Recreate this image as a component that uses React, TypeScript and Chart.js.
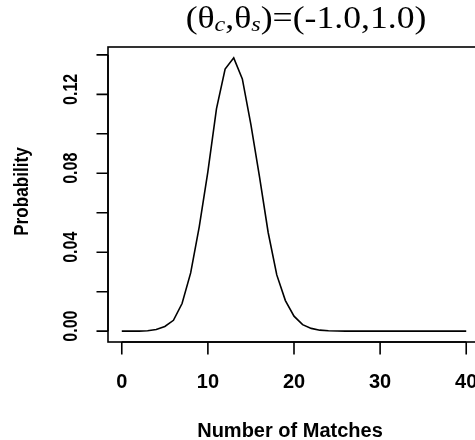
import { useEffect, useRef } from "react";
import { Chart, registerables } from "chart.js";

Chart.register(...registerables);

// Number of matches (x) and the probability of each count (y)
const matches = [
  0, 1, 2, 3, 4, 5, 6, 7, 8, 9, 10, 11, 12, 13, 14, 15, 16, 17, 18, 19, 20,
  21, 22, 23, 24, 25, 26, 27, 28, 29, 30, 31, 32, 33, 34, 35, 36, 37, 38, 39, 40,
];
const probability = [
  0.0, 0.0, 0.0, 0.0002, 0.0008, 0.0024, 0.0055, 0.014, 0.0295, 0.053, 0.0808,
  0.1128, 0.1328, 0.1385, 0.1278, 0.1045, 0.078, 0.05, 0.0285, 0.0155, 0.0076,
  0.0033, 0.0014, 0.0005, 0.0002, 0.0001, 0.0, 0.0, 0.0, 0.0, 0.0, 0.0, 0.0,
  0.0, 0.0, 0.0, 0.0, 0.0, 0.0, 0.0, 0.0,
];

const xTicks = [0, 10, 20, 30, 40];
const xTickLabels = ["0", "10", "20", "30", "40"];
const yTicks = [0, 0.02, 0.04, 0.06, 0.08, 0.1, 0.12, 0.14];
const yTickLabels = ["0.00", "", "0.04", "", "0.08", "", "0.12", ""];

const xTitle = "Number of Matches";
const yTitle = "Probability";
const thetaC = -1.0;
const thetaS = 1.0;

const SANS = "'Liberation Sans', Arial, Helvetica, sans-serif";
const SERIF = "'Liberation Serif', 'Times New Roman', serif";

function fmt(v: number) {
  return v.toFixed(1);
}

// Base-graphics style frame: box, axes with outward ticks, labels, title
const basePlotPlugin = {
  id: "basePlot",
  afterDraw(chart: any) {
    const ctx: CanvasRenderingContext2D = chart.ctx;
    const area = chart.chartArea;
    const xs = chart.scales.x;
    const ys = chart.scales.y;
    ctx.save();
    ctx.strokeStyle = "#000";
    ctx.fillStyle = "#000";
    ctx.lineWidth = 1.6;

    // box
    ctx.strokeRect(area.left, area.top, area.right - area.left, area.bottom - area.top);

    // x axis
    const xa = xs.getPixelForValue(xTicks[0]);
    const xb = xs.getPixelForValue(xTicks[xTicks.length - 1]);
    ctx.beginPath();
    ctx.moveTo(xa, area.bottom);
    ctx.lineTo(xb, area.bottom);
    xTicks.forEach((t) => {
      const px = xs.getPixelForValue(t);
      ctx.moveTo(px, area.bottom);
      ctx.lineTo(px, area.bottom + 12.5);
    });
    ctx.stroke();

    ctx.font = `bold 20px ${SANS}`;
    ctx.textAlign = "center";
    ctx.textBaseline = "alphabetic";
    xTicks.forEach((t, i) => {
      ctx.fillText(xTickLabels[i], xs.getPixelForValue(t), area.bottom + 46);
    });

    // y axis
    const ya = ys.getPixelForValue(yTicks[0]);
    const yb = ys.getPixelForValue(yTicks[yTicks.length - 1]);
    ctx.beginPath();
    ctx.moveTo(area.left, ya);
    ctx.lineTo(area.left, yb);
    yTicks.forEach((t) => {
      const py = ys.getPixelForValue(t);
      ctx.moveTo(area.left, py);
      ctx.lineTo(area.left - 11.5, py);
    });
    ctx.stroke();

    yTicks.forEach((t, i) => {
      const label = yTickLabels[i];
      if (!label) return;
      const py = ys.getPixelForValue(t);
      ctx.save();
      ctx.translate(area.left - 37, py - 5);
      ctx.scale(1, 0.8);
      ctx.rotate(-Math.PI / 2);
      ctx.font = `bold 20px ${SANS}`;
      ctx.textAlign = "center";
      ctx.textBaseline = "middle";
      ctx.fillText(label, 0, 0);
      ctx.restore();
    });

    // axis titles
    ctx.font = `bold 20px ${SANS}`;
    ctx.textAlign = "center";
    ctx.textBaseline = "alphabetic";
    ctx.fillText(xTitle, (area.left + area.right) / 2 - 4, 436.5);

    ctx.save();
    ctx.translate(23, (area.top + area.bottom) / 2 - 3);
    ctx.scale(1, 0.88);
    ctx.rotate(-Math.PI / 2);
    ctx.font = `bold 19.5px ${SANS}`;
    ctx.textAlign = "center";
    ctx.textBaseline = "middle";
    ctx.fillText(yTitle, 0, 0);
    ctx.restore();

    // main title with subscripts
    const mainFont = `31px ${SERIF}`;
    const subFont = `italic 21px ${SERIF}`;
    const parts: [string, string, number][] = [
      ["(\u03b8", mainFont, 0],
      ["c", subFont, 3],
      [",\u03b8", mainFont, 0],
      ["s", subFont, 3],
      [`)=(${fmt(thetaC)},${fmt(thetaS)})`, mainFont, 0],
    ];
    let total = 0;
    const widths = parts.map(([txt, f]) => {
      ctx.font = f;
      const w = ctx.measureText(txt).width;
      total += w;
      return w;
    });
    const sx = 1.15;
    const cx = 306;
    ctx.save();
    ctx.translate(cx - (total * sx) / 2, 28);
    ctx.scale(sx, 1);
    ctx.textAlign = "left";
    ctx.textBaseline = "alphabetic";
    let x = 0;
    parts.forEach(([txt, f, dy], i) => {
      ctx.font = f;
      ctx.fillText(txt, x, dy);
      x += widths[i];
    });
    ctx.restore();

    ctx.restore();
  },
};

export default function App() {
  const ref = useRef<HTMLCanvasElement | null>(null);

  useEffect(() => {
    const canvas = ref.current;
    if (!canvas) return;
    const chart = new Chart(canvas, {
      type: "line",
      data: {
        datasets: [
          {
            data: matches.map((m, i) => ({ x: m, y: probability[i] })),
            borderColor: "#000",
            borderWidth: 1.6,
            pointRadius: 0,
            tension: 0,
            fill: false,
          },
        ],
      },
      options: {
        animation: false,
        responsive: false,
        devicePixelRatio: 1,
        layout: { padding: { left: 108, top: 47, right: 10, bottom: 98 } },
        plugins: {
          legend: { display: false },
          tooltip: { enabled: false },
          title: { display: false },
        },
        scales: {
          x: { type: "linear", min: -1.6, max: 41.6, display: false },
          y: { type: "linear", min: -0.0055, max: 0.144, display: false },
        },
      },
      plugins: [basePlotPlugin],
    });
    return () => chart.destroy();
  }, []);

  return (
    <div
      style={{
        position: "fixed",
        left: 0,
        top: 0,
        width: 475,
        height: 440,
        overflow: "hidden",
        background: "#fff",
      }}
    >
      <canvas ref={ref} width={490} height={440} style={{ width: 490, height: 440, display: "block" }} />
    </div>
  );
}
